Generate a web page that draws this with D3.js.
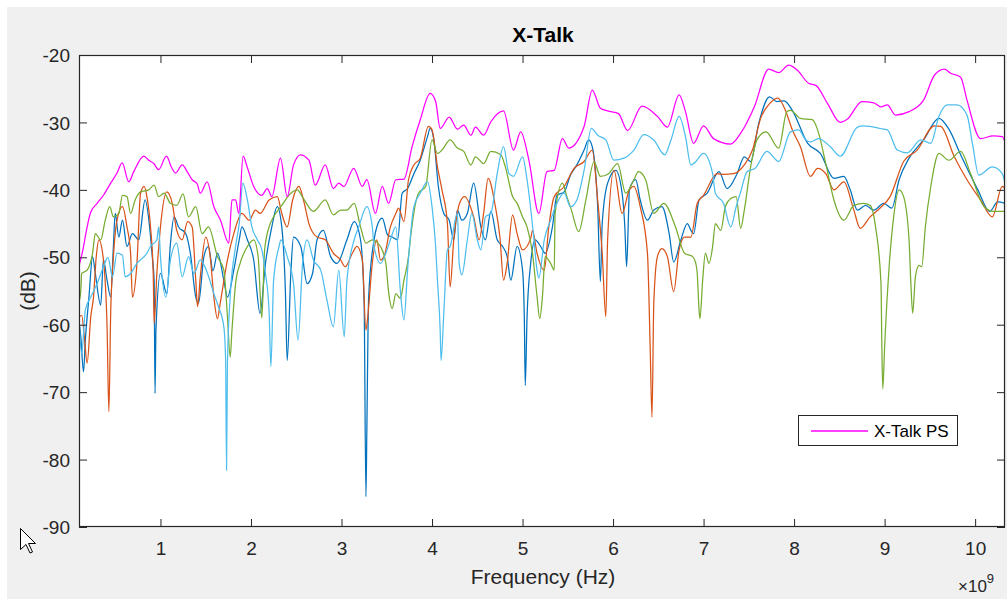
<!DOCTYPE html>
<html>
<head>
<meta charset="utf-8">
<script src="https://cdn.jsdelivr.net/npm/d3@7"></script>
<style>
  html, body { margin: 0; padding: 0; background: #ffffff; }
  svg { display: block; }
  text { font-family: "Liberation Sans", Arial, Helvetica, sans-serif; }
</style>
</head>
<body>
<svg id="chart" width="1007" height="602"></svg>
<script>
// ---------------- DATA (frequency in GHz, value in dB) ----------------
const xTicks = [1, 2, 3, 4, 5, 6, 7, 8, 9, 10];
const yTicks = [-20, -30, -40, -50, -60, -70, -80, -90];
const xDomain = [0.1, 10.33];
const yDomain = [-90, -20];
const legendLabel = "X-Talk PS";

const seriesBlue = [[0.105,-60],[0.12,-61.8],[0.15,-67],[0.17,-62.3],[0.21,-55.9],[0.25,-49.9],[0.28,-52.4],[0.34,-57.1],[0.37,-50.4],[0.41,-53.4],[0.45,-55.9],[0.48,-48.4],[0.50,-43.5],[0.54,-47],[0.58,-44.5],[0.63,-48.4],[0.69,-46.5],[0.76,-47.4],[0.83,-41.5],[0.88,-45.5],[0.91,-50],[0.93,-53.4],[0.94,-70.2],[0.95,-60.8],[1.0,-52.4],[1.07,-55.4],[1.11,-48],[1.15,-44],[1.20,-45.5],[1.28,-46.5],[1.33,-49.4],[1.39,-55.9],[1.42,-56.8],[1.48,-49.9],[1.53,-48.4],[1.58,-52],[1.63,-49.4],[1.70,-53.4],[1.74,-55.9],[1.81,-51.9],[1.87,-47.4],[1.90,-45.5],[1.96,-47.4],[2.03,-50.4],[2.10,-58.3],[2.16,-50.9],[2.23,-45.5],[2.29,-42.5],[2.34,-45.5],[2.38,-55],[2.40,-65.3],[2.44,-52.4],[2.47,-47],[2.55,-48.4],[2.62,-53.9],[2.68,-52.4],[2.73,-47.4],[2.80,-46],[2.88,-49.9],[2.95,-50.9],[3.06,-47.4],[3.14,-44.7],[3.21,-47.4],[3.25,-56.8],[3.27,-85.5],[3.28,-75.6],[3.30,-55.9],[3.36,-47.4],[3.39,-45.5],[3.45,-44.2],[3.51,-46.7],[3.56,-47],[3.62,-47.4],[3.67,-40.5],[3.73,-39.8],[3.80,-37.6],[3.87,-35.6],[3.95,-32.1],[3.98,-30.9],[4.02,-32.6],[4.07,-39.5],[4.13,-43.5],[4.19,-44.5],[4.24,-47.4],[4.28,-43],[4.33,-44.5],[4.39,-43.5],[4.46,-39],[4.54,-45.5],[4.59,-47.4],[4.65,-43.2],[4.72,-47.4],[4.78,-48.4],[4.83,-49.9],[4.87,-53.4],[4.94,-48.4],[5.0,-51.9],[5.02,-59.3],[5.03,-69],[5.05,-58.8],[5.09,-50.9],[5.14,-47.4],[5.2,-48.4],[5.25,-49.4],[5.33,-45.5],[5.38,-40.8],[5.46,-40.3],[5.53,-37.8],[5.60,-36.3],[5.68,-34.1],[5.73,-32.6],[5.77,-33.6],[5.83,-42.5],[5.86,-53.6],[5.88,-45],[5.94,-39],[6.03,-37.1],[6.10,-40.5],[6.13,-45.5],[6.15,-51.4],[6.17,-44],[6.18,-40],[6.25,-38.5],[6.30,-41.5],[6.38,-44.5],[6.45,-43],[6.54,-42.5],[6.62,-46.5],[6.67,-50.7],[6.75,-47.4],[6.82,-45],[6.86,-46],[6.89,-46.5],[6.95,-41.5],[7.04,-40.5],[7.17,-37.3],[7.26,-39.8],[7.37,-37.6],[7.45,-35.1],[7.52,-35.8],[7.61,-30.1],[7.73,-26.2],[7.81,-26.9],[7.89,-26.8],[7.98,-28.2],[8.15,-33.1],[8.29,-34.6],[8.44,-38.3],[8.55,-38],[8.62,-40],[8.70,-43],[8.79,-42.3],[8.88,-43],[8.99,-42],[9.08,-42.7],[9.16,-38.5],[9.27,-35.3],[9.43,-32.6],[9.60,-29.4],[9.71,-31],[9.84,-34.8],[10.03,-40],[10.16,-43.2],[10.25,-41.8],[10.33,-42]];

const seriesOrange = [[0.105,-58.8],[0.13,-58.6],[0.16,-62],[0.19,-65.7],[0.23,-58.8],[0.26,-55.9],[0.29,-50],[0.32,-47.4],[0.37,-50.4],[0.41,-60.3],[0.43,-72.9],[0.45,-58.3],[0.48,-50],[0.52,-44.5],[0.58,-42.5],[0.63,-45.5],[0.67,-49.4],[0.69,-55.9],[0.74,-50.9],[0.78,-40.5],[0.82,-39.5],[0.85,-41],[0.89,-45.5],[0.92,-52.4],[0.93,-59.8],[0.96,-52.4],[1.0,-45.5],[1.07,-40.3],[1.13,-42],[1.18,-46],[1.24,-47.4],[1.30,-44.7],[1.35,-45.5],[1.39,-53.4],[1.41,-57.3],[1.44,-52.9],[1.50,-47],[1.55,-50],[1.59,-55.9],[1.63,-59.1],[1.66,-56.8],[1.74,-50.4],[1.81,-46.5],[1.90,-43.5],[1.98,-44.5],[2.05,-43],[2.10,-43.5],[2.20,-41.5],[2.29,-41],[2.34,-43.5],[2.40,-45.5],[2.46,-41.5],[2.53,-39.5],[2.58,-41.5],[2.64,-45],[2.73,-47],[2.82,-47.4],[2.91,-49.4],[2.99,-50.4],[3.04,-51.4],[3.12,-49.4],[3.17,-48.4],[3.23,-50.4],[3.27,-60.8],[3.29,-58.8],[3.34,-50.9],[3.39,-47.4],[3.43,-50.4],[3.47,-49.9],[3.54,-45.5],[3.60,-43.5],[3.63,-42.7],[3.69,-44.7],[3.74,-38.5],[3.80,-36.3],[3.87,-35.3],[3.96,-30.6],[4.0,-31.1],[4.06,-36.6],[4.11,-40],[4.17,-45],[4.20,-54.4],[4.24,-47.4],[4.31,-41.8],[4.36,-41],[4.46,-44],[4.52,-47.4],[4.57,-43.5],[4.62,-38.3],[4.70,-42.5],[4.75,-47],[4.79,-53.4],[4.83,-50.9],[4.89,-43.7],[4.94,-46.5],[5.0,-48.9],[5.09,-47.2],[5.11,-46],[5.16,-49.4],[5.24,-51.9],[5.29,-45.5],[5.35,-41],[5.46,-39.5],[5.57,-36.8],[5.68,-35.8],[5.77,-34.1],[5.83,-41.5],[5.88,-49.4],[5.92,-58.8],[5.94,-47.4],[6.01,-37.1],[6.10,-43.5],[6.18,-40],[6.23,-39.5],[6.30,-42.5],[6.38,-49.4],[6.41,-63.3],[6.43,-73.7],[6.45,-56.8],[6.49,-49.9],[6.54,-48.7],[6.60,-49.9],[6.67,-55.1],[6.73,-48.9],[6.79,-47],[6.86,-47],[6.93,-42],[7.0,-40.8],[7.15,-37.6],[7.22,-37.7],[7.33,-37.6],[7.45,-36.3],[7.54,-34.1],[7.63,-29.4],[7.73,-27.2],[7.82,-26.4],[7.91,-28.4],[7.98,-31.1],[8.07,-33.6],[8.18,-38],[8.26,-36.8],[8.35,-37.6],[8.44,-40],[8.55,-38.8],[8.66,-43],[8.73,-45.7],[8.84,-44],[8.95,-42.7],[9.06,-41],[9.21,-35.8],[9.36,-34.1],[9.55,-30.5],[9.62,-30.6],[9.77,-35.1],[9.91,-38.5],[10.06,-41.5],[10.19,-44],[10.3,-39.5],[10.33,-39.8]];

const seriesGreen = [[0.105,-56.4],[0.12,-54.9],[0.13,-52.4],[0.19,-51.9],[0.25,-49.4],[0.28,-46.5],[0.34,-47.4],[0.39,-44.5],[0.44,-42.5],[0.48,-44],[0.54,-43.5],[0.58,-40.8],[0.63,-41],[0.67,-43.5],[0.72,-41.5],[0.78,-40.3],[0.87,-40],[0.93,-39.3],[0.98,-41],[1.04,-40.5],[1.11,-42],[1.18,-42.3],[1.25,-40.6],[1.31,-44],[1.39,-42.5],[1.46,-46.5],[1.53,-45.5],[1.63,-49.9],[1.70,-51.9],[1.74,-58.8],[1.77,-64.8],[1.79,-60.8],[1.83,-53.9],[1.88,-50.9],[1.96,-48.4],[2.03,-47.4],[2.08,-50],[2.12,-59],[2.15,-49],[2.20,-45.5],[2.25,-44],[2.33,-42.5],[2.44,-40.5],[2.51,-40],[2.58,-41.3],[2.69,-43.2],[2.82,-41.5],[2.91,-43.7],[2.99,-43],[3.06,-43],[3.14,-42],[3.21,-45.5],[3.27,-47.9],[3.34,-47.4],[3.43,-48.4],[3.49,-50.9],[3.52,-55.1],[3.56,-57.6],[3.60,-55.4],[3.65,-56.1],[3.69,-53.4],[3.74,-49.9],[3.76,-47.4],[3.85,-40.5],[3.93,-39.5],[4.0,-32.6],[4.06,-34.6],[4.11,-34.1],[4.20,-32.6],[4.28,-33.8],[4.35,-34.3],[4.43,-36.3],[4.48,-35.1],[4.57,-36.1],[4.65,-34.3],[4.76,-34.8],[4.81,-36.6],[4.89,-41],[4.94,-42],[5.0,-44],[5.05,-45.5],[5.11,-49.4],[5.16,-55.8],[5.19,-59.1],[5.22,-55.8],[5.25,-49.9],[5.31,-50.9],[5.35,-51.9],[5.36,-43.5],[5.44,-39],[5.49,-41],[5.54,-43],[5.62,-46.2],[5.70,-41.5],[5.79,-35.8],[5.86,-38],[5.95,-37.6],[6.05,-36.1],[6.14,-40.5],[6.23,-38.5],[6.28,-37.3],[6.36,-38.5],[6.45,-43.5],[6.56,-42],[6.69,-45.5],[6.79,-49.4],[6.88,-49.9],[6.91,-50.7],[6.93,-52.4],[6.95,-57.8],[6.96,-59.1],[6.99,-53.4],[7.02,-49.4],[7.06,-50.9],[7.10,-48.4],[7.13,-45],[7.19,-46],[7.24,-42.5],[7.30,-41.3],[7.36,-41],[7.41,-45.7],[7.45,-43],[7.52,-36.6],[7.59,-32.6],[7.69,-31.4],[7.83,-33.8],[7.92,-28.4],[7.96,-28.2],[8.07,-29.4],[8.20,-29.6],[8.26,-31.1],[8.35,-36.1],[8.44,-41.5],[8.55,-44.5],[8.66,-42.3],[8.77,-42],[8.84,-42.3],[8.90,-45.5],[8.96,-53.9],[8.97,-63.8],[8.98,-69.5],[9.0,-63.3],[9.05,-51.4],[9.10,-44],[9.16,-40],[9.21,-41],[9.27,-47.4],[9.29,-53.9],[9.31,-58.3],[9.34,-52.9],[9.38,-51.2],[9.41,-51.4],[9.45,-45.5],[9.51,-39.5],[9.60,-34.6],[9.71,-35.6],[9.84,-34.3],[9.95,-37.6],[10.10,-42.5],[10.21,-43.2],[10.33,-43.2]];

const seriesLightBlue = [[0.105,-60.3],[0.13,-64.3],[0.17,-57.8],[0.23,-55.9],[0.30,-53.9],[0.37,-51.4],[0.42,-50],[0.47,-52.9],[0.52,-49.4],[0.58,-49.7],[0.61,-52.9],[0.67,-52.4],[0.74,-50.9],[0.85,-49.4],[0.89,-48.4],[0.96,-47.4],[0.98,-45.5],[1.0,-49.9],[1.06,-55.9],[1.11,-50.4],[1.18,-47.9],[1.24,-52.9],[1.31,-49.9],[1.37,-52.4],[1.44,-50.4],[1.52,-52.4],[1.59,-55.4],[1.64,-57.3],[1.70,-60.3],[1.72,-65.3],[1.73,-81.6],[1.74,-65.7],[1.77,-55.9],[1.83,-48.4],[1.87,-45],[1.91,-39],[1.96,-41.5],[2.01,-45.5],[2.07,-47.4],[2.12,-48.9],[2.16,-52.4],[2.20,-58],[2.22,-66.2],[2.25,-53.4],[2.31,-48.4],[2.33,-47.4],[2.40,-49.9],[2.47,-53.9],[2.52,-62.3],[2.57,-50.9],[2.62,-47.4],[2.69,-50.4],[2.77,-51.9],[2.84,-56.4],[2.91,-60.3],[2.97,-51.9],[3.03,-61.8],[3.06,-53.4],[3.14,-47.4],[3.19,-45.5],[3.28,-42.5],[3.34,-45.5],[3.36,-48.4],[3.43,-50.9],[3.49,-49.4],[3.54,-47.4],[3.60,-45.5],[3.65,-54.9],[3.69,-59.3],[3.73,-51.9],[3.80,-42.5],[3.87,-40.5],[3.95,-38.8],[4.0,-42.5],[4.04,-48.4],[4.06,-53.4],[4.09,-60.8],[4.10,-65.3],[4.13,-58.3],[4.17,-48.9],[4.20,-48.4],[4.28,-43.5],[4.30,-50.9],[4.33,-52.6],[4.39,-47.4],[4.44,-43.5],[4.50,-47.4],[4.54,-48.9],[4.59,-44],[4.65,-43.5],[4.72,-37.6],[4.79,-33.6],[4.85,-37.6],[4.90,-38],[5.0,-35.1],[5.05,-38.5],[5.12,-46.5],[5.16,-51.9],[5.18,-53.1],[5.24,-47.4],[5.31,-44.5],[5.38,-42],[5.46,-40.5],[5.53,-42.5],[5.60,-41.5],[5.68,-37.1],[5.76,-30.9],[5.83,-31.9],[5.92,-32.6],[6.01,-35.6],[6.12,-35.3],[6.23,-34.1],[6.34,-31.8],[6.45,-32.6],[6.57,-34.8],[6.64,-32.6],[6.73,-29.1],[6.80,-32.1],[6.86,-36.3],[6.9,-36],[7.0,-34.6],[7.1,-37.6],[7.13,-40.5],[7.22,-42],[7.30,-45.5],[7.36,-42.5],[7.41,-40.3],[7.48,-37.3],[7.57,-36.8],[7.70,-34.3],[7.83,-35.8],[7.96,-31.4],[8.05,-31.1],[8.13,-32.6],[8.18,-32.9],[8.27,-32.4],[8.40,-33.6],[8.51,-35],[8.70,-30.7],[8.77,-30.5],[8.84,-30.6],[8.95,-30.9],[9.03,-31.1],[9.14,-34.1],[9.25,-34.5],[9.40,-32.6],[9.51,-33.1],[9.60,-29.1],[9.69,-27.4],[9.80,-27.4],[9.91,-28.9],[9.97,-33.1],[10.04,-37.8],[10.19,-36.6],[10.3,-37.6],[10.33,-39]];

const seriesPS = [[0.105,-51],[0.135,-49.4],[0.19,-45.5],[0.227,-43.4],[0.30,-42],[0.37,-40.8],[0.45,-39],[0.52,-37.5],[0.577,-36],[0.65,-38.8],[0.705,-37.3],[0.816,-35],[0.87,-35.6],[0.926,-36.1],[0.98,-37],[1.066,-35],[1.12,-36.6],[1.166,-37.5],[1.24,-36.3],[1.30,-37.4],[1.35,-38.5],[1.405,-39.1],[1.44,-40.5],[1.516,-38.8],[1.59,-42.5],[1.663,-44.5],[1.755,-47.9],[1.79,-41.5],[1.83,-41.5],[1.865,-43.5],[1.913,-35],[1.958,-36.6],[2.03,-39.5],[2.12,-40.8],[2.18,-39.8],[2.23,-41],[2.326,-35.3],[2.40,-41],[2.47,-36.3],[2.547,-34.8],[2.64,-35.6],[2.71,-39.3],[2.82,-36.3],[2.91,-39.8],[2.97,-39],[3.025,-39.5],[3.135,-36.8],[3.23,-39.5],[3.28,-38.5],[3.375,-43.5],[3.45,-39.5],[3.52,-42],[3.6,-38.5],[3.69,-38.4],[3.78,-33.6],[3.87,-29.6],[3.98,-25.7],[4.04,-26.9],[4.09,-30.9],[4.19,-29.2],[4.28,-31],[4.35,-30.4],[4.43,-31.9],[4.48,-30.7],[4.57,-31.9],[4.65,-29.9],[4.79,-28.3],[4.9,-34.1],[4.98,-31.4],[5.07,-35.6],[5.18,-43.5],[5.27,-37.3],[5.35,-37.1],[5.44,-32.4],[5.51,-33.8],[5.68,-30.6],[5.77,-25.2],[5.86,-27.9],[5.94,-28.3],[6.06,-28.7],[6.16,-31.2],[6.32,-27.6],[6.49,-29.1],[6.6,-30.7],[6.73,-25.9],[6.80,-28.4],[6.89,-33.1],[7.0,-30.5],[7.11,-32.4],[7.30,-33.2],[7.41,-31.6],[7.56,-27.7],[7.72,-22.1],[7.83,-22.6],[7.94,-21.5],[8.04,-22.3],[8.16,-24.2],[8.24,-24.5],[8.37,-27.2],[8.51,-30],[8.59,-29.5],[8.75,-26.9],[8.88,-27.1],[8.96,-27.7],[9.03,-27.4],[9.12,-28.9],[9.27,-28.4],[9.43,-26.7],[9.55,-23],[9.66,-22.1],[9.73,-22.7],[9.84,-23.3],[9.91,-26.7],[10.06,-32.4],[10.2,-32],[10.3,-32.1],[10.33,-32.9]];

// ---------------- LAYOUT ----------------
const W = 1007, H = 602;
const plot = { left: 79, right: 1005, top: 55, bottom: 527 };
const axisColor = "#262626";

const svg = d3.select("#chart");

svg.append("rect").attr("x", 0).attr("y", 0).attr("width", W).attr("height", H).attr("fill", "#ffffff");
svg.append("rect").attr("x", 7).attr("y", 7).attr("width", W - 7).attr("height", 592).attr("fill", "#f0f0f0");

svg.append("rect")
  .attr("x", plot.left).attr("y", plot.top)
  .attr("width", plot.right - plot.left).attr("height", plot.bottom - plot.top)
  .attr("fill", "#ffffff");

const x = d3.scaleLinear().domain(xDomain).range([plot.left, plot.right]);
const y = d3.scaleLinear().domain(yDomain).range([plot.bottom, plot.top]);

svg.append("defs").append("clipPath").attr("id", "clip")
  .append("rect")
  .attr("x", plot.left).attr("y", plot.top)
  .attr("width", plot.right - plot.left).attr("height", plot.bottom - plot.top);

const line = d3.line().x(d => x(d[0])).y(d => y(d[1])).curve(d3.curveMonotoneX);

const series = [
  { data: seriesBlue, color: "#0072BD" },
  { data: seriesOrange, color: "#D95319" },
  { data: seriesGreen, color: "#77AC30" },
  { data: seriesLightBlue, color: "#4DBEEE" },
  { data: seriesPS, color: "#FF00FF" }
];

const gLines = svg.append("g").attr("clip-path", "url(#clip)");
series.forEach(s => {
  gLines.append("path")
    .datum(s.data)
    .attr("d", line)
    .attr("fill", "none")
    .attr("stroke", s.color)
    .attr("stroke-width", 1.25)
    .attr("stroke-linejoin", "round");
});

// ---------------- AXES ----------------
const tickLen = 8;
const fmt = d => String(d);

const xAxisB = svg.append("g").attr("transform", `translate(0,${plot.bottom})`)
  .call(d3.axisBottom(x).tickValues(xTicks).tickSizeInner(-tickLen).tickSizeOuter(0).tickFormat(fmt));
const xAxisT = svg.append("g").attr("transform", `translate(0,${plot.top})`)
  .call(d3.axisTop(x).tickValues(xTicks).tickSizeInner(-tickLen).tickSizeOuter(0).tickFormat(""));
const yAxisL = svg.append("g").attr("transform", `translate(${plot.left},0)`)
  .call(d3.axisLeft(y).tickValues(yTicks).tickSizeInner(-tickLen).tickSizeOuter(0).tickFormat(fmt));
const yAxisR = svg.append("g").attr("transform", `translate(${plot.right},0)`)
  .call(d3.axisRight(y).tickValues(yTicks).tickSizeInner(-tickLen).tickSizeOuter(0).tickFormat(""));

[xAxisB, xAxisT, yAxisL, yAxisR].forEach(g => {
  g.select(".domain").remove();
  g.selectAll(".tick line").attr("stroke", axisColor).attr("stroke-width", 1);
});

xAxisB.selectAll(".tick text")
  .attr("y", 28).attr("dy", null)
  .attr("fill", axisColor)
  .style("font-size", "19px");

yAxisL.selectAll(".tick text")
  .attr("x", -9).attr("dy", "0.35em")
  .attr("fill", axisColor)
  .style("font-size", "19px");

svg.append("rect")
  .attr("x", plot.left + 0.5).attr("y", plot.top + 0.5)
  .attr("width", plot.right - plot.left - 1).attr("height", plot.bottom - plot.top - 1)
  .attr("fill", "none").attr("stroke", axisColor).attr("stroke-width", 1.2);

// ---------------- LABELS ----------------
svg.append("text")
  .attr("x", (plot.left + plot.right) / 2 + 1).attr("y", 42)
  .attr("text-anchor", "middle")
  .style("font-size", "21px").style("font-weight", "bold")
  .attr("fill", "#000000")
  .text("X-Talk");

svg.append("text")
  .attr("x", (plot.left + plot.right) / 2 + 1).attr("y", 584)
  .attr("text-anchor", "middle")
  .style("font-size", "21px")
  .attr("fill", axisColor)
  .text("Frequency (Hz)");

svg.append("text")
  .attr("transform", `translate(35,${(plot.top + plot.bottom) / 2}) rotate(-90)`)
  .attr("text-anchor", "middle")
  .style("font-size", "21px")
  .attr("fill", axisColor)
  .text("(dB)");

const expo = svg.append("text")
  .attr("x", 958).attr("y", 592)
  .style("font-size", "17px")
  .attr("fill", axisColor);
expo.append("tspan").text("\u00d710");
expo.append("tspan").attr("dy", -9).style("font-size", "13px").text("9");

// ---------------- LEGEND ----------------
const lg = svg.append("g");
lg.append("rect")
  .attr("x", 798.5).attr("y", 415.5).attr("width", 159).attr("height", 30)
  .attr("fill", "#ffffff").attr("stroke", axisColor).attr("stroke-width", 1);
lg.append("line")
  .attr("x1", 811).attr("x2", 868).attr("y1", 431).attr("y2", 431)
  .attr("stroke", "#FF00FF").attr("stroke-width", 1.3);
lg.append("text")
  .attr("x", 874).attr("y", 437)
  .style("font-size", "17px")
  .attr("fill", "#000000")
  .text(legendLabel);

// ---------------- MOUSE CURSOR (present in screenshot) ----------------
svg.append("path")
  .attr("d", "M20.5,528.5 L20.5,549.5 L26,544.5 L30,553 L32.5,552 L28.5,543.5 L35.5,543.5 Z")
  .attr("fill", "#ffffff").attr("stroke", "#000000").attr("stroke-width", 1);
</script>
</body>
</html>
